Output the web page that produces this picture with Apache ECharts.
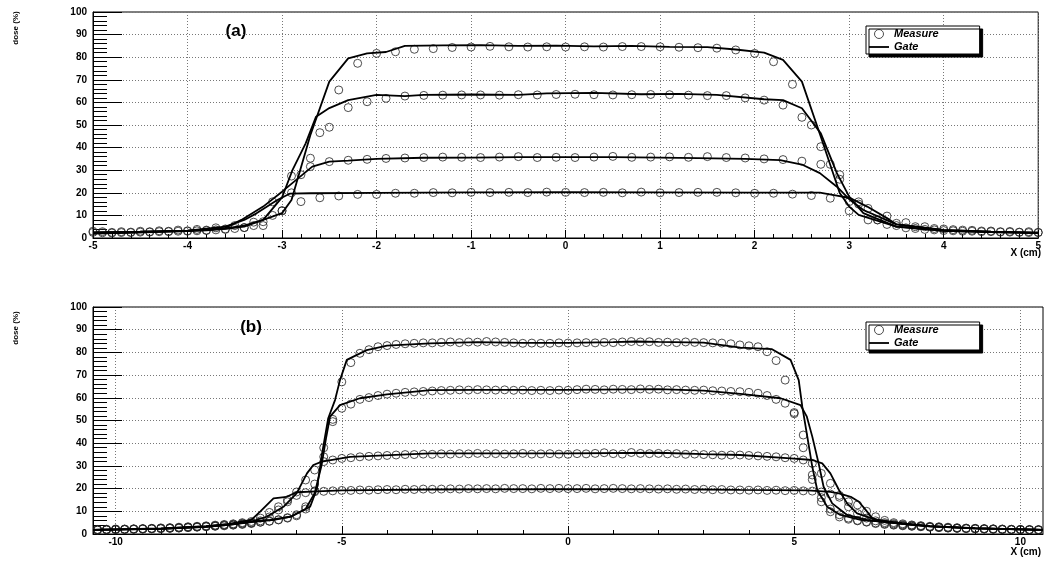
<!DOCTYPE html>
<html>
<head>
<meta charset="utf-8">
<script src="https://cdn.jsdelivr.net/npm/echarts@6/dist/echarts.min.js"></script>
<style>
html,body{margin:0;padding:0;background:#fff;}
#c{width:1044px;height:562px;}
</style>
</head>
<body>
<div id="c"></div>
<script>
// ---------------- DATA ----------------
// Panel (a): measurement grid positions (cm)
const topStartA = -5.0;   // 85% and 20% series
const topStartB = -4.9;   // 63% and 35% series
const topStep = 0.2;
const botStart = -10.4;
const botStep = 0.2;

const topMeas85 = [2.5,2.5,2.6,2.8,3.0,3.2,3.5,4.0,4.6,5.5,12,28,46.6,65.5,77.3,81.7,82.4,83.5,83.8,84.3,84.5,84.8,84.6,84.5,84.6,84.5,84.6,84.5,84.7,84.7,84.6,84.4,84.2,84.0,83.2,81.7,78.0,68.0,50.0,32.6,12.0,8.0,6.0,4.5,3.8,3.3,3.0,2.8,2.6,2.5,2.4];
const topMeas20 = [3.0,2.2,2.4,2.6,2.8,3.0,3.3,3.8,4.6,7.2,12.1,16.1,17.8,18.6,19.3,19.3,19.8,19.8,20.1,20.0,20.2,20.1,20.2,20.1,20.3,20.2,20.1,20.2,20.0,20.3,20.0,20.1,20.2,20.2,20.0,19.8,19.8,19.4,18.8,17.6,16.1,13.1,9.7,6.8,5.0,4.0,3.5,3.1,2.8,2.6,2.5];
const topMeas63 = [2.3,2.4,2.6,2.8,3.0,3.2,3.6,4.2,5.5,10,20,35.3,49.0,57.7,60.3,61.8,62.8,63.1,63.2,63.3,63.3,63.2,63.4,63.3,63.5,63.6,63.4,63.3,63.4,63.5,63.4,63.2,63.0,63.0,62.0,61.0,58.8,53.4,40.4,26.0,15.0,8.0,5.5,4.2,3.6,3.2,3.0,2.8,2.6,2.4];
const topMeas35 = [2.8,2.8,3.0,3.2,3.5,3.8,4.5,5.5,7.0,16.0,27.4,31.6,33.8,34.4,34.8,35.2,35.4,35.6,35.8,35.7,35.6,35.8,36.0,35.6,35.7,35.6,35.8,36.1,35.7,35.8,35.9,35.7,36.0,35.6,35.4,35.0,34.7,34.0,32.6,28.0,16.0,8.0,6.5,5.0,4.2,3.7,3.4,3.1,2.9,2.8];

const topGate85 = [[-5,2.0],[-4.6,2.3],[-4.2,2.8],[-3.8,3.4],[-3.6,4.2],[-3.4,5.5],[-3.2,8],[-3.0,11],[-2.9,16.8],[-2.7,45.6],[-2.5,69.2],[-2.3,79.5],[-2.1,81.7],[-1.9,82.3],[-1.7,85],[-1.3,85.2],[-0.9,85.3],[-0.5,85],[-0.1,85.1],[0.3,84.8],[0.7,85],[1.1,84.6],[1.5,84.5],[1.8,83.4],[2.1,82],[2.3,78.8],[2.5,69.2],[2.7,44.8],[2.9,19.9],[3.0,13.9],[3.1,10.2],[3.5,5],[4,3.2],[4.5,2.6],[5,2.2]];
const topGate63 = [[-5,2.2],[-4.5,2.6],[-4,3.1],[-3.6,4],[-3.4,5],[-3.2,8],[-3.0,18],[-2.89,30],[-2.75,41.9],[-2.64,53.7],[-2.5,57.5],[-2.3,61],[-2.0,63.3],[-1.7,62.8],[-1.5,63.3],[-1.0,63.5],[-0.5,63.3],[-0.2,64],[0.3,64.2],[0.8,63.6],[1.2,63.8],[1.6,63.3],[2.1,61.4],[2.3,61],[2.5,57.4],[2.7,46.3],[2.87,28.7],[3.0,18.3],[3.15,11],[3.5,5],[4,3.2],[4.5,2.6],[5,2.2]];
const topGate35 = [[-5,2.5],[-4.5,2.8],[-4,3.3],[-3.6,4.5],[-3.43,8],[-3.2,13.9],[-3.0,20.5],[-2.85,25.7],[-2.68,31.6],[-2.5,33.8],[-2.3,34.2],[-2.0,35],[-1.5,35.5],[-1.0,35.6],[-0.5,35.8],[0,35.8],[0.5,35.8],[1.0,35.6],[1.4,35.3],[1.9,35],[2.27,34.5],[2.5,32.5],[2.69,28.7],[2.87,22.7],[3.01,16.8],[3.15,12.4],[3.5,6],[4,3.5],[4.5,2.8],[5,2.4]];
const topGate20 = [[-5,2.5],[-4.5,2.8],[-4,3.3],[-3.6,5],[-3.4,8],[-3.27,10.9],[-3.05,16.8],[-2.92,19.6],[-2.7,19.8],[-2,20],[-1,20.2],[0,20.3],[1,20.2],[2,20.1],[2.69,20.1],[2.84,19],[3.01,17.7],[3.19,13.9],[3.4,8.8],[3.5,6],[4,3.6],[4.5,2.8],[5,2.4]];

// Panel (b)
const botMeas85 = [1.8,1.9,2.0,2.0,2.1,2.2,2.3,2.4,2.5,2.6,2.8,3.0,3.2,3.4,3.6,3.9,4.2,4.6,5.2,5.6,6.2,7.0,8.0,11.0,22.0,38.0,50.5,67.0,75.5,79.6,81.2,82.5,83.0,83.5,83.8,84.0,84.2,84.2,84.4,84.6,84.3,84.6,84.5,84.8,84.6,84.4,84.2,84.0,84.1,84.0,84.0,84.2,84.1,84.2,84.3,84.2,84.4,84.3,84.6,84.8,84.6,84.7,84.4,84.5,84.3,84.6,84.4,84.3,84.2,84.1,83.8,83.3,82.9,82.5,80.3,76.4,67.8,53.5,43.6,26.0,14.2,9.8,7.5,6.5,5.8,5.2,4.6,4.2,3.9,3.6,3.4,3.2,3.0,2.8,2.6,2.5,2.4,2.3,2.2,2.1,2.0,2.0,1.9,1.8,1.8];
const botMeas63 = [1.7,1.8,1.9,2.0,2.1,2.2,2.3,2.4,2.5,2.7,2.9,3.1,3.3,3.5,3.8,4.0,4.4,4.8,5.2,5.7,6.3,7.2,8.5,12,19,34,49.5,55.4,57.2,59.3,60.1,61.0,61.6,62.0,62.4,62.6,62.8,63.0,63.2,63.3,63.5,63.4,63.6,63.5,63.4,63.5,63.3,63.4,63.2,63.3,63.2,63.4,63.3,63.6,63.8,63.7,63.5,63.8,63.7,63.6,63.9,63.7,63.8,63.5,63.6,63.4,63.3,63.4,63.1,63.0,62.8,62.7,62.4,62.0,61.0,59.3,57.6,53.0,38.0,24.0,16.0,11.0,8.5,7.0,6.0,5.4,4.9,4.5,4.1,3.8,3.5,3.3,3.1,2.9,2.7,2.5,2.4,2.3,2.2,2.1,2.0,1.9,1.9,1.8,1.7];
const botMeas35 = [1.9,2.0,2.1,2.1,2.2,2.3,2.4,2.5,2.7,2.8,3.0,3.2,3.4,3.7,4.0,4.3,4.7,5.0,5.8,7.5,10.6,14.2,18.5,23.8,28.2,31.9,32.6,33.3,33.6,34.0,34.2,34.4,34.6,34.8,35.0,35.0,35.2,35.1,35.3,35.2,35.4,35.3,35.5,35.3,35.4,35.2,35.3,35.5,35.2,35.3,35.4,35.2,35.1,35.4,35.3,35.5,35.8,35.4,35.2,35.9,35.5,35.4,35.5,35.3,35.4,35.1,35.2,35.0,34.9,34.7,34.8,34.8,34.6,34.4,34.2,34.0,33.6,33.3,32.6,31.1,26.7,22.3,17.0,12.0,9.0,7.0,5.8,5.0,4.5,4.1,3.8,3.5,3.2,3.0,2.8,2.6,2.5,2.4,2.3,2.2,2.1,2.0,2.0,1.9,1.9];
const botMeas20 = [2.0,2.1,2.2,2.2,2.3,2.4,2.5,2.7,2.8,3.0,3.2,3.4,3.6,3.9,4.2,4.5,5.0,5.5,7.0,9.5,12.0,15.0,17.0,18.2,18.6,18.8,19.0,19.2,19.2,19.4,19.3,19.5,19.6,19.5,19.7,19.6,19.8,19.7,19.8,19.9,19.8,20.0,19.9,20.0,19.9,20.1,20.0,20.0,19.9,20.1,20.0,20.1,20.0,20.0,20.1,19.9,20.0,20.1,20.0,19.9,20.0,19.9,19.8,19.9,19.7,19.8,19.6,19.7,19.5,19.6,19.4,19.4,19.3,19.4,19.2,19.3,19.1,19.2,19.0,18.9,18.5,17.6,16.2,14.2,12.8,10.0,7.6,6.0,5.0,4.5,4.0,3.7,3.4,3.2,3.0,2.8,2.6,2.5,2.4,2.3,2.2,2.1,2.0,2.0,1.9];

const botGate85 = [[-10.5,1.8],[-9,2.3],[-8,3.2],[-7.5,4],[-7.03,5.4],[-6.59,6.2],[-6.14,7.6],[-5.7,12],[-5.55,20],[-5.44,35],[-5.30,51],[-5.15,59],[-5.04,67.8],[-4.89,76.7],[-4.45,81],[-4.0,83],[-3.05,84],[-2,84.5],[-1,84.2],[0,84.2],[1,84.5],[1.5,84.8],[2,84.6],[3,84.3],[3.81,82.1],[4.51,81.4],[4.92,76.7],[5.10,67.8],[5.18,56],[5.29,42.9],[5.40,29.6],[5.51,19.4],[5.73,12],[6.02,8.4],[6.47,6.2],[6.98,5.3],[7.5,4.2],[8,3.4],[9,2.5],[10.5,1.8]];
const botGate63 = [[-10.5,1.8],[-9,2.3],[-8,3.2],[-7.5,4],[-7,5.2],[-6.5,6.2],[-6.1,7.8],[-5.8,11],[-5.6,18],[-5.45,30],[-5.35,42],[-5.26,51.7],[-5.04,56.8],[-4.6,59.8],[-4,61.5],[-3.05,63.4],[-2,63.5],[0,63.5],[2,63.8],[3,63.2],[3.81,61.7],[4.70,59.8],[5.14,56.8],[5.28,51.7],[5.40,42.9],[5.54,31.1],[5.65,20.8],[5.84,13.5],[6.17,8.4],[6.6,6.2],[7,5.2],[7.5,4.2],[8,3.4],[9,2.5],[10.5,1.8]];
const botGate35 = [[-10.5,1.8],[-9,2.4],[-8,3.3],[-7.5,4.2],[-7,5.5],[-6.66,7.6],[-6.29,12],[-6.0,17.9],[-5.77,26.7],[-5.63,30.4],[-5.44,31.9],[-4.82,34],[-3.05,35.5],[0,35.5],[2,35.8],[3,35.2],[3.81,34.8],[4.92,33.3],[5.40,32.6],[5.62,31.1],[5.80,26.7],[5.99,19.4],[6.17,13.5],[6.39,9.1],[6.8,6.3],[7.2,5.2],[7.5,4.4],[8,3.5],[9,2.6],[10.5,1.8]];
const botGate20 = [[-10.5,1.8],[-9,2.5],[-8,3.5],[-7.5,4.5],[-7.0,6.2],[-6.8,10],[-6.51,15.7],[-6.22,16.4],[-6.0,18.4],[-5.55,18.8],[-5,19.2],[-3,19.6],[0,19.8],[3,19.6],[3.81,19.4],[5.29,19.2],[5.80,18.6],[5.99,17.9],[6.25,16.4],[6.43,14.2],[6.58,10.6],[6.73,6.9],[7.0,5.5],[7.5,4.4],[8,3.5],[9,2.5],[10.5,1.8]];

const botMajorTicks = [-10,-5,0,5,10];
const botMinorTicks = [-10,-9,-8,-7,-6,-5,-4,-3,-2,-1,0,1,2,3,4,5,6,7,8,9,10];

// ---------------- CHART ----------------
function onGrid(start, step, ys){ return ys.map((y,i)=>[+(start+i*step).toFixed(2), y]); }

const FONT = 'Liberation Sans, Arial, sans-serif';
const gridLine = {show:true, lineStyle:{color:'#777', width:1, type:[1,2]}};
const labelStyle = {color:'#000', fontFamily:FONT, fontWeight:'bold', fontSize:10};

function yAxis(gi){
  return {gridIndex:gi, type:'value', min:0, max:100, interval:10,
    axisLine:{show:true, onZero:false, lineStyle:{color:'#000', width:1}},
    axisTick:{show:true, inside:true, length:29, lineStyle:{color:'#000', width:1}},
    minorTick:{show:true, splitNumber:5, length:14, lineStyle:{color:'#000', width:1}},
    axisLabel:Object.assign({margin:6}, labelStyle),
    splitLine:gridLine};
}

function meas(name, xi, yi, data){
  return {name:'Measure', type:'scatter', xAxisIndex:xi, yAxisIndex:yi, data:data,
    symbol:'circle', symbolSize:8,
    itemStyle:{color:'rgba(0,0,0,0)', borderColor:'#222', borderWidth:1},
    z:3, silent:true};
}
function gate(xi, yi, data){
  return {name:'Gate', type:'line', xAxisIndex:xi, yAxisIndex:yi, data:data,
    showSymbol:false, symbol:'none', smooth:false,
    lineStyle:{color:'#000', width:1.8}, itemStyle:{color:'#000'}, z:4, silent:true};
}

function legend(top){
  return {left:866, top:top, orient:'vertical', itemGap:1, itemWidth:20, itemHeight:9,
    padding:[2,41,1,3], backgroundColor:'#fff', borderColor:'#000', borderWidth:1,
    shadowColor:'#000', shadowOffsetX:3, shadowOffsetY:3, shadowBlur:0,
    selectedMode:false,
    textStyle:{color:'#000', fontFamily:FONT, fontWeight:'bold', fontStyle:'italic', fontSize:11, lineHeight:12},
    data:[{name:'Measure', icon:'circle', itemStyle:{color:'rgba(0,0,0,0)', borderColor:'#222', borderWidth:1}},
          {name:'Gate', icon:'path://M0,0L22,0L22,2L0,2Z', itemStyle:{color:'#000', borderWidth:0}}]};
}

const option = {
  backgroundColor:'#fff',
  animation:false,
  grid:[
    {left:93, top:12, width:949, height:226, show:true, borderColor:'#000', borderWidth:1, backgroundColor:'#fff'},
    {left:93, top:307, width:950, height:227, show:true, borderColor:'#000', borderWidth:1, backgroundColor:'#fff'}
  ],
  xAxis:[
    {gridIndex:0, type:'value', min:-5, max:5, interval:1,
      axisLine:{show:true, onZero:false, lineStyle:{color:'#000'}},
      axisTick:{show:true, inside:true, length:8, lineStyle:{color:'#000'}},
      minorTick:{show:true, splitNumber:5, length:4, lineStyle:{color:'#000'}},
      axisLabel:Object.assign({margin:3}, labelStyle),
      splitLine:gridLine},
    {gridIndex:1, type:'value', min:-10.5, max:10.5,
      axisLine:{show:true, onZero:false, lineStyle:{color:'#000'}},
      axisTick:{show:true, inside:true, length:8, customValues:botMajorTicks, lineStyle:{color:'#000'}},
      axisLabel:Object.assign({margin:3, customValues:botMajorTicks}, labelStyle),
      splitLine:gridLine},
    {gridIndex:1, type:'value', min:-10.5, max:10.5, position:'bottom',
      axisLine:{show:false, onZero:false},
      axisTick:{show:true, inside:true, length:4, customValues:botMinorTicks, lineStyle:{color:'#000'}},
      axisLabel:{show:false},
      splitLine:{show:false}}
  ],
  yAxis:[yAxis(0), yAxis(1)],
  legend:[legend(26), legend(322)],
  graphic:[
    {type:'text', x:16, y:28, rotation:Math.PI/2, style:{text:'dose (%)', fill:'#000', font:'bold 8px '+FONT, align:'center', verticalAlign:'middle'}},
    {type:'text', x:16, y:328, rotation:Math.PI/2, style:{text:'dose (%)', fill:'#000', font:'bold 8px '+FONT, align:'center', verticalAlign:'middle'}},
    {type:'text', x:236, y:31, style:{text:'(a)', fill:'#000', font:'bold 17px '+FONT, align:'center', verticalAlign:'middle'}},
    {type:'text', x:251, y:327, style:{text:'(b)', fill:'#000', font:'bold 17px '+FONT, align:'center', verticalAlign:'middle'}},
    {type:'text', x:1041, y:253, style:{text:'X (cm)', fill:'#000', font:'bold 10px '+FONT, align:'right', verticalAlign:'middle'}},
    {type:'text', x:1041, y:552, style:{text:'X (cm)', fill:'#000', font:'bold 10px '+FONT, align:'right', verticalAlign:'middle'}}
  ],
  series:[
    meas('m85', 0, 0, onGrid(topStartA, topStep, topMeas85)),
    meas('m63', 0, 0, onGrid(topStartB, topStep, topMeas63)),
    meas('m35', 0, 0, onGrid(topStartB, topStep, topMeas35)),
    meas('m20', 0, 0, onGrid(topStartA, topStep, topMeas20)),
    gate(0, 0, topGate85), gate(0, 0, topGate63), gate(0, 0, topGate35), gate(0, 0, topGate20),
    meas('b85', 1, 1, onGrid(botStart, botStep, botMeas85)),
    meas('b63', 1, 1, onGrid(botStart, botStep, botMeas63)),
    meas('b35', 1, 1, onGrid(botStart, botStep, botMeas35)),
    meas('b20', 1, 1, onGrid(botStart, botStep, botMeas20)),
    gate(1, 1, botGate85), gate(1, 1, botGate63), gate(1, 1, botGate35), gate(1, 1, botGate20)
  ]
};

const chart = echarts.init(document.getElementById('c'), null, {renderer:'canvas'});
chart.setOption(option);
</script>
</body>
</html>
